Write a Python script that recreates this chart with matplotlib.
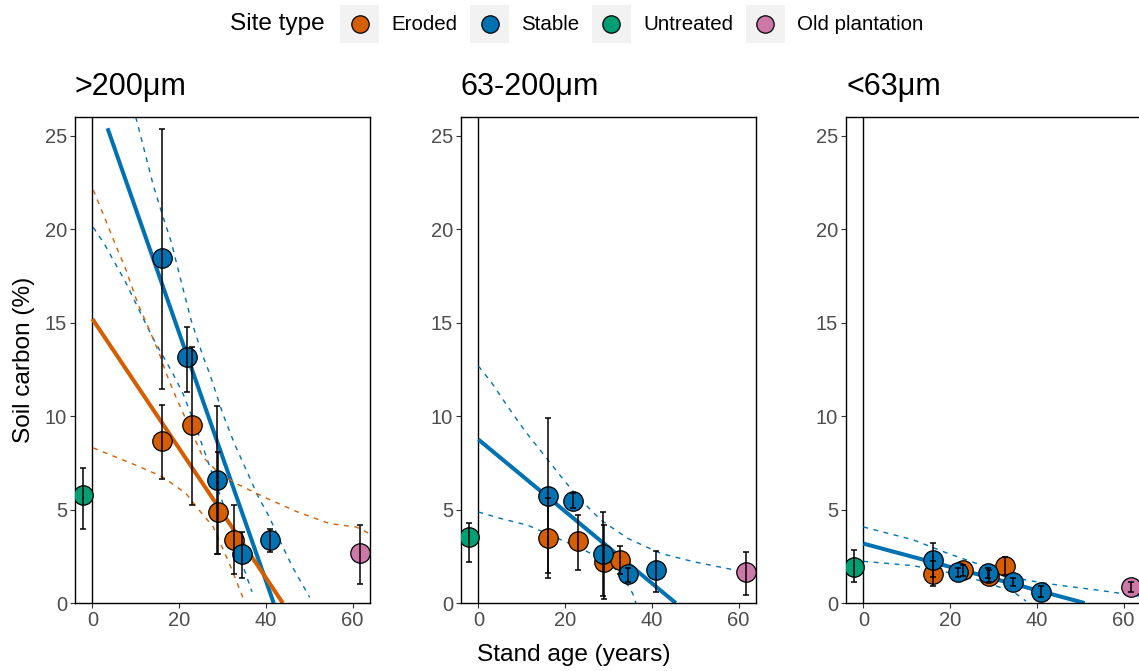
import numpy as np
import matplotlib
matplotlib.use("Agg")
import matplotlib.pyplot as plt
from matplotlib.legend_handler import HandlerBase
from matplotlib.patches import Rectangle
from matplotlib.lines import Line2D

# stand age of each site (years)
age_eroded = [16.0, 23.0, 28.9, 32.7]
age_stable = [16.0, 21.8, 28.8, 34.6, 41.0]
age_untreated = [-2.2]
age_old = [61.8]

# soil carbon (%) as (mean, lower, upper) for each site
# >200um
coarse_eroded = [(8.66, 6.62, 10.62), (9.5, 5.23, 13.7), (4.85, 2.6, 8.1), (3.38, 1.57, 5.25)]
coarse_stable = [(18.45, 11.43, 25.35), (13.15, 11.3, 14.78), (6.6, 2.6, 10.52), (2.62, 1.36, 3.8), (3.37, 2.73, 3.95)]
coarse_untreated = [(5.77, 3.98, 7.25)]
coarse_old = [(2.66, 1.0, 4.16)]
# 63-200um
medium_eroded = [(3.48, 1.34, 5.6), (3.3, 1.79, 4.73), (2.2, 0.24, 4.2), (2.29, 1.55, 3.05)]
medium_stable = [(5.72, 1.6, 9.88), (5.46, 5.1, 5.86), (2.64, 0.4, 4.87), (1.55, 1.15, 1.85), (1.75, 0.59, 2.79)]
medium_untreated = [(3.54, 2.17, 4.27)]
medium_old = [(1.66, 0.41, 2.72)]
# <63um
fine_eroded = [(1.57, 0.89, 2.25), (1.75, 1.45, 2.05), (1.45, 1.15, 1.75), (1.98, 1.5, 2.45)]
fine_stable = [(2.29, 1.4, 3.21), (1.66, 1.4, 1.9), (1.6, 1.35, 1.85), (1.13, 0.9, 1.35), (0.59, 0.3, 0.9)]
fine_untreated = [(1.93, 1.13, 2.86)]
fine_old = [(0.86, 0.6, 1.15)]

# regression lines and confidence limits
coarse_stable_fit_x = [3.5, 41.8]
coarse_stable_fit_y = [25.4, 0.0]
coarse_stable_upper_x = [10.0, 12.0, 14.1, 16.1, 18.2, 20.2, 22.8, 25.5, 27.0, 30.1, 32.8, 35.5, 38.2, 40.8, 43.5, 46.2, 50.1]
coarse_stable_upper_y = [26.0, 24.2, 22.3, 20.8, 19.3, 17.45, 15.1, 13.2, 12.3, 10.1, 8.5, 7.1, 5.7, 4.6, 3.2, 1.9, 0.3]
coarse_stable_lower_x = [0.2, 2.8, 4.7, 7.6, 10.5, 13.9, 18.5, 20.9, 23.9, 26.6, 30.0, 33.0, 35.0, 36.8]
coarse_stable_lower_y = [20.1, 19.2, 18.4, 17.2, 15.8, 14.2, 12.3, 11.2, 9.4, 7.6, 5.4, 3.3, 1.8, 0.6]
coarse_eroded_fit_x = [0.0, 43.9]
coarse_eroded_fit_y = [15.2, 0.0]
coarse_eroded_upper_x = [0.2, 2.6, 5.1, 7.8, 10.5, 12.8, 15.5, 17.0, 19.3, 22.4, 25.5, 29.0, 33.1, 39.3, 47.0, 54.7, 60.8, 64.0]
coarse_eroded_upper_y = [22.1, 20.75, 19.3, 17.8, 16.0, 14.8, 13.3, 12.3, 11.0, 9.4, 7.8, 7.0, 6.4, 5.7, 4.9, 4.25, 4.07, 3.7]
coarse_eroded_lower_x = [0.2, 5.5, 10.8, 16.2, 21.6, 24.5, 27.8, 31.6, 34.7]
coarse_eroded_lower_y = [8.3, 7.8, 7.3, 6.75, 5.86, 5.0, 4.1, 2.1, 0.3]

medium_stable_fit_x = [0.0, 45.5]
medium_stable_fit_y = [8.75, 0.0]
medium_stable_upper_x = [0.0, 2.9, 6.8, 10.6, 15.2, 19.1, 22.9, 28.3, 34.5, 42.1, 49.8, 57.5, 64.0]
medium_stable_upper_y = [12.68, 11.84, 10.5, 9.25, 7.9, 6.75, 5.68, 4.43, 3.45, 2.65, 2.2, 1.84, 1.55]
medium_stable_lower_x = [0.0, 5.2, 11.4, 17.5, 22.9, 29.1, 32.9, 35.6, 36.3]
medium_stable_lower_y = [4.87, 4.52, 4.16, 3.54, 3.0, 2.29, 1.57, 0.5, 0.0]

fine_stable_fit_x = [0.0, 51.0]
fine_stable_fit_y = [3.18, 0.0]
fine_stable_upper_x = [0.0, 11.5, 19.2, 26.9, 34.6, 37.6, 45.2, 54.4, 64.0]
fine_stable_upper_y = [4.07, 3.38, 2.68, 2.05, 1.45, 1.22, 0.95, 0.68, 0.36]
fine_stable_lower_x = [0.0, 11.5, 19.2, 26.9, 34.6, 37.5]
fine_stable_lower_y = [2.23, 2.0, 1.65, 1.2, 0.6, 0.1]

titles = [">200\u03bcm", "63-200\u03bcm", "<63\u03bcm"]
site_types = ["Eroded", "Stable", "Untreated", "Old plantation"]
colors = {"Eroded": "#D55E00", "Stable": "#0072B2", "Untreated": "#009E73", "Old plantation": "#CC79A7"}
ages = {"Eroded": age_eroded, "Stable": age_stable, "Untreated": age_untreated, "Old plantation": age_old}

points = [
    {"Eroded": coarse_eroded, "Stable": coarse_stable, "Untreated": coarse_untreated, "Old plantation": coarse_old},
    {"Eroded": medium_eroded, "Stable": medium_stable, "Untreated": medium_untreated, "Old plantation": medium_old},
    {"Eroded": fine_eroded, "Stable": fine_stable, "Untreated": fine_untreated, "Old plantation": fine_old},
]
fits = [
    [("Stable", coarse_stable_fit_x, coarse_stable_fit_y, coarse_stable_upper_x, coarse_stable_upper_y,
      coarse_stable_lower_x, coarse_stable_lower_y),
     ("Eroded", coarse_eroded_fit_x, coarse_eroded_fit_y, coarse_eroded_upper_x, coarse_eroded_upper_y,
      coarse_eroded_lower_x, coarse_eroded_lower_y)],
    [("Stable", medium_stable_fit_x, medium_stable_fit_y, medium_stable_upper_x, medium_stable_upper_y,
      medium_stable_lower_x, medium_stable_lower_y)],
    [("Stable", fine_stable_fit_x, fine_stable_fit_y, fine_stable_upper_x, fine_stable_upper_y,
      fine_stable_lower_x, fine_stable_lower_y)],
]


class KeyBox(HandlerBase):
    # ggplot style legend key: grey square with the point in the middle
    def create_artists(self, legend, orig_handle, xdescent, ydescent, width, height, fontsize, trans):
        box = Rectangle((-xdescent, -ydescent), width, height, facecolor="#F2F2F2",
                        edgecolor="none", transform=trans)
        dot = Line2D([-xdescent + width / 2], [-ydescent + height / 2], marker="o", linestyle="none",
                     markersize=orig_handle.get_markersize(),
                     markerfacecolor=orig_handle.get_markerfacecolor(),
                     markeredgecolor="black", markeredgewidth=0.9, transform=trans)
        return [box, dot]


plt.rcParams["font.family"] = ["Liberation Sans", "DejaVu Sans"]
fig = plt.figure(figsize=(11.39, 6.71), dpi=100)

lefts = [75 / 1139, 461 / 1139, 846 / 1139]
for i, left in enumerate(lefts):
    ax = fig.add_axes([left, 0.1013, 295 / 1139, 0.7243])
    ax.axvline(0, color="black", lw=1.0, zorder=1)

    for site, fx, fy, ux, uy, lx, ly in fits[i]:
        c = colors[site]
        ax.plot(ux, uy, color=c, lw=1.0, dashes=(3.5, 4), zorder=2)
        ax.plot(lx, ly, color=c, lw=1.0, dashes=(3.5, 4), zorder=2)
        ax.plot(fx, fy, color=c, lw=2.9, solid_capstyle="butt", zorder=2)

    for site in site_types:
        vals = np.array(points[i][site])
        x = np.array(ages[site])
        ax.plot(x, vals[:, 0], "o", ms=14, mfc=colors[site], mec="black", mew=0.9, zorder=3)
        ax.errorbar(x, vals[:, 0], yerr=[vals[:, 0] - vals[:, 1], vals[:, 2] - vals[:, 0]],
                    fmt="none", ecolor="black", elinewidth=1.1, capsize=2.2, capthick=1.1, zorder=4)

    ax.set_xlim(-4, 64)
    ax.set_ylim(0, 26)
    ax.set_xticks([0, 20, 40, 60])
    ax.set_yticks([0, 5, 10, 15, 20, 25])
    ax.tick_params(direction="out", length=3.3, width=0.8, color="#333333",
                   labelsize=14.5, labelcolor="#4D4D4D", pad=2.5)
    for sp in ax.spines.values():
        sp.set_linewidth(1.0)
        sp.set_color("black")
    ax.set_title(titles[i], loc="left", fontsize=22, pad=16)
    if i == 0:
        ax.set_ylabel("Soil carbon (%)", fontsize=17.6, labelpad=7)

fig.text(0.504, 0.024, "Stand age (years)", ha="center", va="center", fontsize=17.6)

handles = [Line2D([], [], marker="o", linestyle="none", ms=12.5, mfc=colors[s]) for s in site_types]
fig.legend(handles, site_types, loc="center", bbox_to_anchor=(0.5548, 0.964), ncol=4,
           frameon=False, fontsize=14.8, handlelength=1.9, handleheight=2.5,
           handletextpad=0.6, columnspacing=0.6, borderpad=0, borderaxespad=0,
           handler_map={Line2D: KeyBox()})
fig.text(325 / 1139, 0.964, "Site type", ha="right", va="center", fontsize=17.6)

fig.savefig("out.png", dpi=100)
